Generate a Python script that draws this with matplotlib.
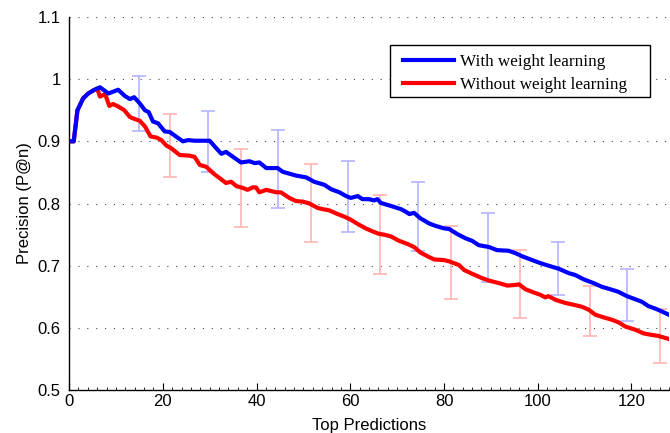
import matplotlib
matplotlib.use("Agg")
import matplotlib.pyplot as plt
from matplotlib.patches import Rectangle
from matplotlib.ticker import MultipleLocator, FuncFormatter

# --- data ---
with_x = [0.6, 1.0, 1.8, 3.0, 4.1, 5.2, 6.6, 8.4, 10.5, 11.9, 13.0, 13.9, 15.1, 16.2, 17.0, 17.9, 19.0,
          20.4, 21.5, 22.6, 24.3, 25.4, 26.8, 30.0, 31.4, 32.5, 33.5, 35.0, 36.7, 38.5, 39.6, 40.6,
          42.1, 44.5, 45.6, 48.4, 50.6, 52.3, 54.5, 55.9, 57.7, 59.1, 60.1, 61.6, 62.6, 64.0, 65.1,
          65.8, 66.5, 68.7, 70.8, 71.8, 72.6, 73.6, 75.0, 76.8, 78.2, 80.0, 81.1, 82.8, 84.6, 86.0,
          87.4, 89.6, 91.3, 93.8, 95.3, 96.7, 98.8, 100.6, 102.3, 104.5, 106.6, 108.0, 109.8, 111.9,
          113.7, 115.5, 117.2, 119.0, 120.8, 122.2, 123.6, 125.4, 128.0]
with_y = [0.900, 0.900, 0.950, 0.969, 0.977, 0.982, 0.987, 0.977, 0.983, 0.973, 0.968, 0.971, 0.961, 0.950,
          0.947, 0.932, 0.929, 0.916, 0.915, 0.909, 0.900, 0.902, 0.901, 0.901, 0.889, 0.880, 0.883,
          0.875, 0.866, 0.868, 0.865, 0.866, 0.857, 0.857, 0.851, 0.845, 0.842, 0.835, 0.830, 0.823,
          0.818, 0.812, 0.809, 0.812, 0.807, 0.807, 0.805, 0.807, 0.801, 0.796, 0.791, 0.787, 0.783,
          0.785, 0.776, 0.768, 0.764, 0.760, 0.759, 0.751, 0.744, 0.740, 0.733, 0.730, 0.725, 0.724,
          0.720, 0.715, 0.709, 0.704, 0.700, 0.695, 0.688, 0.685, 0.678, 0.672, 0.666, 0.662, 0.658,
          0.651, 0.646, 0.642, 0.635, 0.630, 0.621]

without_x = [0.6, 1.0, 1.8, 3.0, 4.1, 5.2, 6.0, 6.6, 7.7, 8.6, 9.4, 10.5, 11.8, 13.0, 14.0, 15.1, 16.2,
             17.4, 18.7, 19.7, 20.8, 21.8, 23.6, 25.7, 26.8, 27.9, 29.3, 30.7, 32.1, 33.5, 34.6,
             35.7, 37.1, 38.1, 39.2, 39.9, 40.6, 42.1, 44.2, 45.2, 47.0, 48.4, 49.9, 51.3, 53.0,
             54.1, 55.5, 57.3, 58.7, 60.1, 61.6, 63.3, 64.8, 66.2, 67.2, 68.7, 70.4, 72.2, 73.6,
             75.0, 76.5, 77.9, 80.0, 81.1, 83.2, 84.3, 86.0, 88.1, 89.6, 91.7, 93.5, 95.3, 96.0,
             97.4, 99.1, 100.6, 101.6, 102.3, 103.8, 105.9, 107.7, 109.4, 110.9, 112.3, 114.0,
             115.8, 117.2, 118.7, 120.8, 122.6, 124.0, 125.7, 128.0]
without_y = [0.900, 0.900, 0.950, 0.969, 0.977, 0.982, 0.985, 0.972, 0.976, 0.957, 0.960, 0.956, 0.950,
             0.939, 0.936, 0.933, 0.924, 0.908, 0.906, 0.902, 0.893, 0.889, 0.878, 0.877, 0.875,
             0.862, 0.859, 0.849, 0.841, 0.833, 0.835, 0.828, 0.825, 0.822, 0.826, 0.826, 0.818,
             0.822, 0.818, 0.818, 0.809, 0.804, 0.803, 0.800, 0.793, 0.791, 0.789, 0.783, 0.779,
             0.774, 0.767, 0.760, 0.755, 0.751, 0.750, 0.747, 0.740, 0.735, 0.730, 0.721, 0.715,
             0.710, 0.709, 0.707, 0.701, 0.693, 0.687, 0.680, 0.676, 0.672, 0.668, 0.669, 0.670,
             0.662, 0.657, 0.653, 0.649, 0.651, 0.645, 0.640, 0.637, 0.634, 0.629, 0.621, 0.617,
             0.613, 0.609, 0.602, 0.597, 0.591, 0.589, 0.587, 0.582]

with_err_x = [14.9, 29.6, 44.5, 59.6, 74.5, 89.4, 104.3, 119.1]
with_err_hi = [1.005, 0.949, 0.919, 0.868, 0.835, 0.784, 0.738, 0.694]
with_err_lo = [0.917, 0.851, 0.793, 0.754, 0.723, 0.674, 0.653, 0.611]

without_err_x = [21.6, 36.6, 51.6, 66.4, 81.4, 96.3, 111.2, 126.1]
without_err_hi = [0.944, 0.888, 0.864, 0.813, 0.764, 0.725, 0.668, 0.630]
without_err_lo = [0.842, 0.763, 0.738, 0.686, 0.646, 0.616, 0.587, 0.544]

labels = ["With weight learning", "Without weight learning"]
xlabel = "Top Predictions"
ylabel = "Precision (P@n)"

plt.rcParams['font.family'] = ['Liberation Sans', 'DejaVu Sans']

fig = plt.figure(figsize=(6.7, 4.33), dpi=100)
ax = fig.add_axes([0.103, 0.0993, 0.8955, 0.8614])

# error bars
for ex, lo, hi, col in [(with_err_x, with_err_lo, with_err_hi, '#b4b4ff'),
                        (without_err_x, without_err_lo, without_err_hi, '#ffb4b4')]:
    mid = [(a + b) / 2 for a, b in zip(lo, hi)]
    err = [(b - a) / 2 for a, b in zip(lo, hi)]
    ax.errorbar(ex, mid, yerr=err, fmt='none', ecolor=col, elinewidth=1.2,
                capsize=5, capthick=1.2, zorder=2)

l1, = ax.plot(with_x, with_y, color='#0000ff', lw=3, zorder=4, solid_joinstyle='round')
l2, = ax.plot(without_x, without_y, color='#ff0000', lw=3, zorder=3, solid_joinstyle='round')

ax.set_xlim(0, 128)
ax.set_ylim(0.5, 1.1)
ax.xaxis.set_major_locator(MultipleLocator(20))
ax.xaxis.set_minor_locator(MultipleLocator(2))
ax.yaxis.set_major_locator(MultipleLocator(0.1))
ax.yaxis.set_major_formatter(FuncFormatter(lambda v, p: '%g' % round(v, 2)))
ax.tick_params(axis='x', which='major', direction='in', length=5, width=0.8, labelsize=12, pad=3)
ax.tick_params(axis='x', which='minor', direction='in', length=2.5, width=0.6)
ax.tick_params(axis='y', which='major', direction='in', length=0, labelsize=12, pad=6)
ax.spines['top'].set_visible(False)
ax.spines['right'].set_visible(False)
ax.spines['left'].set_linewidth(1.0)
ax.spines['bottom'].set_linewidth(1.0)
ax.yaxis.grid(True, linestyle=(0, (1, 7)), color='#444444', linewidth=0.8)
ax.set_axisbelow(True)

ax.set_xlabel(xlabel, fontsize=12, labelpad=6)
ax.set_ylabel(ylabel, fontsize=12, labelpad=4)

# legend box (frame drawn separately to match the reference padding)
ax.add_patch(Rectangle((0.535, 0.7855), 0.4333, 0.1394, transform=ax.transAxes,
                       facecolor='white', edgecolor='black', linewidth=1.0, zorder=5))
leg = ax.legend([l1, l2], labels, loc='upper left', bbox_to_anchor=(0.557, 0.901),
                prop={'family': 'Liberation Serif', 'size': 12.3}, frameon=False,
                handlelength=3.0, handletextpad=0.35, borderpad=0.0,
                labelspacing=0.4, borderaxespad=0)
leg.set_zorder(6)

fig.savefig('out.png', dpi=100)
